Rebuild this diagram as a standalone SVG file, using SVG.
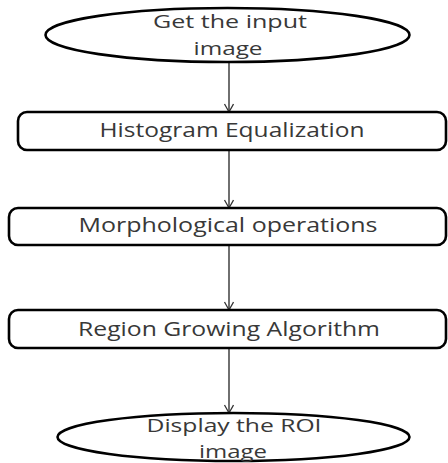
<svg xmlns="http://www.w3.org/2000/svg" width="448" height="463" viewBox="0 0 448 463">
<defs>
<style>
.shape{fill:#fff;stroke:#000;stroke-width:2.6}
.lbl{font-family:"Open Sans","Liberation Sans",sans-serif;font-size:20px;fill:#383838;text-anchor:middle}
.sm{font-size:19px}
.conn{stroke:#333;stroke-width:1.4;fill:none}
</style>
<marker id="arr" markerUnits="userSpaceOnUse" markerWidth="12" markerHeight="12" refX="10" refY="5" orient="auto">
<path d="M2,0.5 L10,5 L2,9.5" fill="none" stroke="#333" stroke-width="1.3"/>
</marker>
</defs>
<rect width="448" height="463" fill="#fff"/>
<g id="connectors">
<line class="conn" x1="229" y1="62" x2="229" y2="112" marker-end="url(#arr)"/>
<line class="conn" x1="229" y1="150" x2="229" y2="208" marker-end="url(#arr)"/>
<line class="conn" x1="229" y1="245" x2="229" y2="310" marker-end="url(#arr)"/>
<line class="conn" x1="229" y1="348" x2="229" y2="413" marker-end="url(#arr)"/>
</g>
<g id="start">
<ellipse class="shape" cx="227.5" cy="35" rx="182" ry="27"/>
<text class="lbl sm" x="230" y="28" textLength="154" lengthAdjust="spacingAndGlyphs">Get the input</text>
<text class="lbl sm" x="228" y="55" textLength="69" lengthAdjust="spacingAndGlyphs">image</text>
</g>
<g id="histogram">
<rect class="shape" x="18" y="112" width="428" height="38" rx="9"/>
<text class="lbl" x="232" y="137" textLength="265" lengthAdjust="spacingAndGlyphs">Histogram Equalization</text>
</g>
<g id="morph">
<rect class="shape" x="9" y="208" width="437" height="37" rx="9"/>
<text class="lbl" x="228" y="232" textLength="299" lengthAdjust="spacingAndGlyphs">Morphological operations</text>
</g>
<g id="region">
<rect class="shape" x="9" y="310" width="437" height="38" rx="9"/>
<text class="lbl" x="229" y="336" textLength="302" lengthAdjust="spacingAndGlyphs">Region Growing Algorithm</text>
</g>
<g id="end">
<ellipse class="shape" cx="233.5" cy="437" rx="176" ry="24"/>
<text class="lbl sm" x="234" y="432" textLength="175" lengthAdjust="spacingAndGlyphs">Display the ROI</text>
<text class="lbl sm" x="233" y="458" textLength="68" lengthAdjust="spacingAndGlyphs">image</text>
</g>
</svg>
